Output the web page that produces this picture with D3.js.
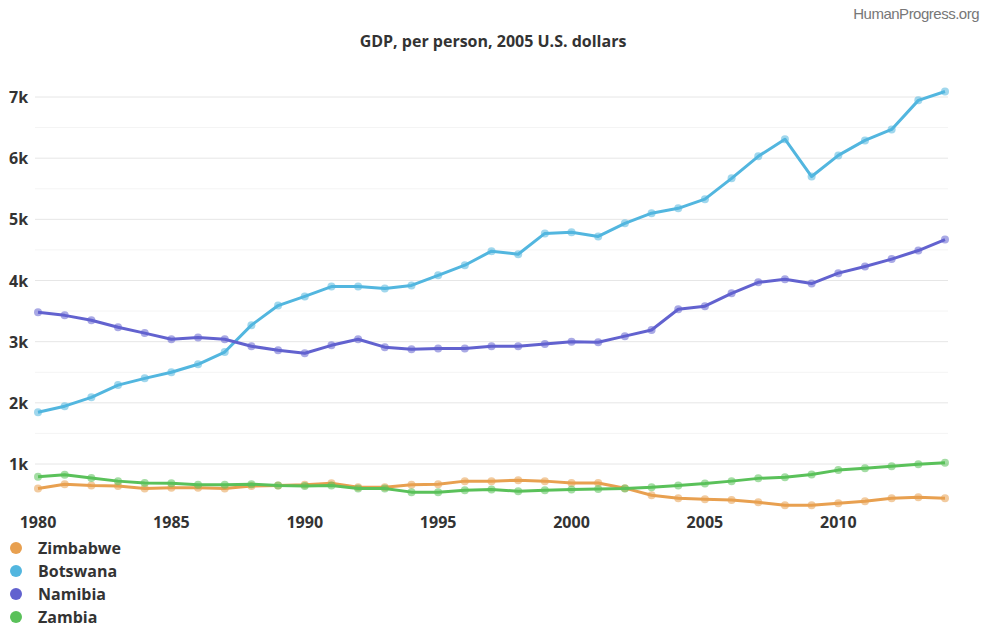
<!DOCTYPE html>
<html>
<head>
<meta charset="utf-8">
<script src="https://cdn.jsdelivr.net/npm/d3@7"></script>
<style>
  body { margin: 0; background: #fff; }
  text { font-family: "Open Sans", "Noto Sans", sans-serif; }
</style>
</head>
<body>
<div id="chart"></div>
<script>
var years = d3.range(1980, 2015);
var seriesNames = ["Zimbabwe", "Botswana", "Namibia", "Zambia"];
var seriesColors = ["#e8a050", "#52b6df", "#6262cf", "#5ac15a"];

var zimbabwe = [600, 670, 650, 640, 600, 610, 610, 600, 640, 650, 660,
    685, 620, 620, 660, 670, 720, 720, 735, 720, 690, 690, 605, 490, 440,
    425, 410, 375, 325, 325, 360, 390, 440, 455, 440];
var botswana = [1846, 1945, 2090, 2290, 2400, 2500, 2630, 2830, 3270, 3590, 3740,
    3900, 3900, 3870, 3920, 4085, 4250, 4480, 4430, 4770, 4790, 4720, 4935, 5100, 5180,
    5330, 5670, 6030, 6310, 5700, 6045, 6290, 6470, 6945, 7090];
var namibia = [3480, 3430, 3350, 3235, 3140, 3040, 3070, 3040, 2925, 2860, 2810,
    2940, 3040, 2910, 2875, 2890, 2890, 2925, 2925, 2960, 3000, 2990, 3090, 3190, 3530,
    3580, 3790, 3970, 4020, 3950, 4120, 4230, 4350, 4490, 4670];
var zambia = [790, 825, 770, 720, 690, 685, 660, 660, 670, 650, 640,
    650, 600, 600, 540, 540, 570, 585, 555, 570, 585, 590, 600, 620, 650,
    680, 720, 765, 785, 830, 900, 930, 965, 995, 1020];

var yTicks = [1000, 2000, 3000, 4000, 5000, 6000, 7000];
var yMinor = [1500, 2500, 3500, 4500, 5500, 6500];
var xTicks = [1980, 1985, 1990, 1995, 2000, 2005, 2010];

var allSeries = [zimbabwe, botswana, namibia, zambia];

var svgWidth = 995;
var svgHeight = 630;

var svg = d3.select("#chart")
    .append("svg")
    .attr("width", svgWidth)
    .attr("height", svgHeight);

var x = d3.scaleLinear()
    .domain([1980, 2014])
    .range([38, 945]);

var y = d3.scaleLinear()
    .domain([1000, 7000])
    .range([464, 97]);

// grid
svg.append("g").selectAll("line")
    .data(yMinor)
    .enter()
    .append("line")
    .attr("x1", 35).attr("x2", 948)
    .attr("y1", d => y(d)).attr("y2", d => y(d))
    .attr("stroke", "#f4f4f4")
    .attr("stroke-width", 1);

svg.append("g").selectAll("line")
    .data(yTicks)
    .enter()
    .append("line")
    .attr("x1", 35).attr("x2", 948)
    .attr("y1", d => y(d)).attr("y2", d => y(d))
    .attr("stroke", "#e6e6e6")
    .attr("stroke-width", 1);

// y labels
svg.append("g").selectAll("text")
    .data(yTicks)
    .enter()
    .append("text")
    .attr("x", 9)
    .attr("y", d => y(d) + 6)
    .attr("font-size", 16)
    .attr("font-weight", "bold")
    .attr("fill", "#333")
    .text(d => (d / 1000) + "k");

// x labels
svg.append("g").selectAll("text")
    .data(xTicks)
    .enter()
    .append("text")
    .attr("x", d => x(d))
    .attr("y", 528)
    .attr("text-anchor", "middle")
    .attr("font-size", 16)
    .attr("font-weight", "bold")
    .attr("fill", "#333")
    .text(d => d);

var line = d3.line()
    .x((d, i) => x(years[i]))
    .y(d => y(d));

// draw order: botswana, namibia, zimbabwe, zambia
[1, 2, 0, 3].forEach(function(k) {
    var g = svg.append("g");
    g.append("path")
        .datum(allSeries[k])
        .attr("d", line)
        .attr("fill", "none")
        .attr("stroke", seriesColors[k])
        .attr("stroke-width", 3)
        .attr("stroke-linejoin", "round");
    g.selectAll("circle")
        .data(allSeries[k])
        .enter()
        .append("circle")
        .attr("cx", (d, i) => x(years[i]))
        .attr("cy", d => y(d))
        .attr("r", 4)
        .attr("fill", seriesColors[k])
        .attr("opacity", 0.55);
});

// title
svg.append("text")
    .attr("x", 493)
    .attr("y", 47)
    .attr("text-anchor", "middle")
    .attr("font-size", 16)
    .attr("font-weight", "bold")
    .attr("fill", "#333")
    .text("GDP, per person, 2005 U.S. dollars");

svg.append("text")
    .attr("x", 979)
    .attr("y", 19)
    .attr("text-anchor", "end")
    .attr("font-size", 15)
    .attr("fill", "#777")
    .style("font-family", "Liberation Sans, Arial, sans-serif")
    .style("letter-spacing", "-0.5px")
    .text("HumanProgress.org");

// legend
var legend = svg.append("g").selectAll("g")
    .data(seriesNames)
    .enter()
    .append("g")
    .attr("transform", (d, i) => `translate(16, ${548 + i * 23})`);

legend.append("circle")
    .attr("r", 6)
    .attr("fill", (d, i) => seriesColors[i]);

legend.append("text")
    .attr("x", 22)
    .attr("y", 6)
    .attr("font-size", 16)
    .attr("font-weight", "bold")
    .attr("fill", "#333")
    .text(d => d);
</script>
</body>
</html>
